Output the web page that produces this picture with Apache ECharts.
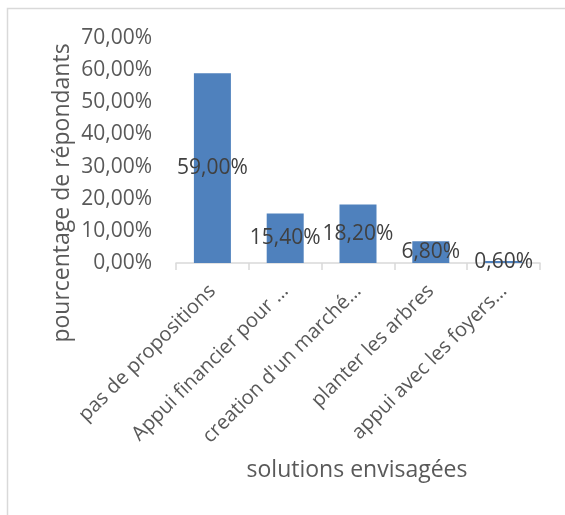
<!DOCTYPE html>
<html><head><meta charset="utf-8">
<script src="https://cdn.jsdelivr.net/npm/echarts@6/dist/echarts.min.js"></script>
<style>html,body{margin:0;padding:0;background:#fff}#c{width:565px;height:515px}</style>
</head><body><div id="c"></div>
<script>
const categories = ["pas de propositions", "Appui financier pour …", "creation d'un marché…", "planter les arbres", "appui avec les foyers…"];
const values = [59.0, 15.4, 18.2, 6.8, 0.6];
const yTicks = [0, 10, 20, 30, 40, 50, 60, 70];
const yTitle = "pourcentage de répondants";
const xTitle = "solutions envisagées";
const FONT = "Open Sans";
const fmt = v => v.toFixed(2).replace('.', ',') + '%';
const chart = echarts.init(document.getElementById('c'), null, {renderer: 'canvas'});
chart.setOption({
  animation: false,
  backgroundColor: '#fff',
  grid: {left: 176, right: 25, top: 38, bottom: 252, containLabel: false},
  graphic: [
    {type: 'rect', shape: {x: 7.5, y: 8.5, width: 600, height: 600}, style: {fill: 'none', stroke: '#d9d9d9', lineWidth: 1.5}},
    {type: 'text', x: 62, y: 193, rotation: Math.PI / 2, style: {text: yTitle, font: '23px "' + FONT + '"', fill: '#595959', align: 'center', verticalAlign: 'middle'}},
    {type: 'text', x: 357, y: 470, style: {text: xTitle, font: '23px "' + FONT + '"', fill: '#595959', align: 'center', verticalAlign: 'middle'}}
  ],
  xAxis: {
    type: 'category', data: categories,
    axisLine: {lineStyle: {color: '#d9d9d9', width: 1.5}},
    axisTick: {show: true, length: 7, alignWithLabel: false, lineStyle: {color: '#d9d9d9', width: 1.5}},
    axisLabel: {rotate: 45, interval: 0, margin: 25, color: '#595959', fontFamily: FONT, fontSize: 20}
  },
  yAxis: {
    type: 'value', min: yTicks[0], max: yTicks[yTicks.length - 1], interval: 10,
    splitLine: {show: false}, axisLine: {show: false}, axisTick: {show: false},
    axisLabel: {margin: 24, color: '#595959', fontFamily: FONT, fontSize: 21, formatter: fmt}
  },
  series: [{
    type: 'bar', data: values, barWidth: 37,
    itemStyle: {color: '#4f81bd'},
    label: {show: true, position: 'inside', color: '#404040', fontFamily: FONT, fontSize: 21, formatter: p => fmt(p.value)}
  }]
});
</script></body></html>
